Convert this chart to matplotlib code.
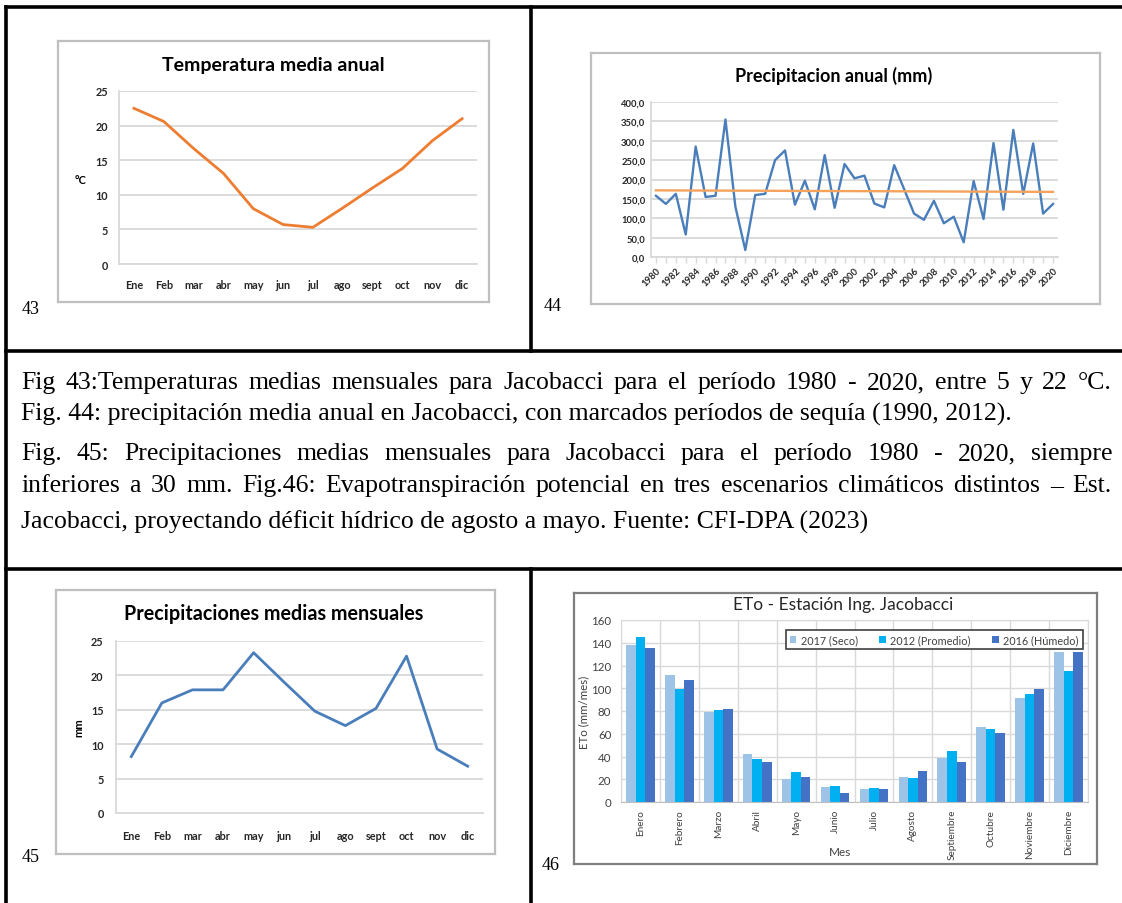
import matplotlib.pyplot as plt
from matplotlib.lines import Line2D

W, H = 1122, 904

# --- datos ---
meses_cortos = ['Ene', 'Feb', 'mar', 'abr', 'may', 'jun', 'jul', 'ago', 'sept', 'oct', 'nov', 'dic']
temp_media = [22.5, 20.6, 16.7, 13.1, 8.0, 5.7, 5.3, 8.1, 11.0, 13.8, 17.8, 21.0]

anios = list(range(1980, 2021))
precip_anual = [158, 137, 163, 58, 285, 155, 158, 355, 130, 18,
                160, 163, 250, 275, 135, 197, 123, 263, 127, 240,
                203, 210, 138, 128, 237, 175, 112, 96, 145, 87,
                104, 38, 196, 98, 294, 122, 328, 163, 293, 112, 137]
tendencia = [172, 168]  # extremos de la linea de tendencia

precip_mensual = [8.2, 16.0, 17.9, 17.9, 23.3, 19.0, 14.8, 12.7, 15.2, 22.8, 9.3, 6.8]

meses_largos = ['Enero', 'Febrero', 'Marzo', 'Abril', 'Mayo', 'Junio', 'Julio', 'Agosto',
                'Septiembre', 'Octubre', 'Noviembre', 'Diciembre']
eto_seco = [138, 112, 79, 42, 20, 13, 11, 22, 39, 66, 91, 132]
eto_prom = [145, 99, 81, 38, 26, 14, 12, 21, 45, 64, 95, 115]
eto_humedo = [135, 107, 82, 35, 22, 8, 11, 27, 35, 61, 99, 132]

texto = [
    "Fig 43:Temperaturas medias mensuales para Jacobacci para el período 1980 - 2020, entre 5 y 22 °C.",
    "Fig. 44: precipitación media anual en Jacobacci, con marcados períodos de sequía (1990, 2012).",
    "Fig. 45: Precipitaciones medias mensuales para Jacobacci para el período 1980 - 2020, siempre",
    "inferiores a 30 mm. Fig.46: Evapotranspiración potencial en tres escenarios climáticos distintos – Est.",
    "Jacobacci, proyectando déficit hídrico de agosto a mayo. Fuente: CFI-DPA (2023)",
]
justificar = [True, False, True, True, False]
y_lineas = [382, 414, 453, 485, 522]

GRIS = '#D9D9D9'
SANS = 'Lato'


def rect(x0, y0, x1, y1):
    return [x0 / W, 1 - y1 / H, (x1 - x0) / W, (y1 - y0) / H]


def fx(x):
    return x / W


def fy(y):
    return 1 - y / H


fig = plt.figure(figsize=(W / 100, H / 100), dpi=100)


def caja(x0, y0, x1, y1, color='#BFBFBF'):
    ax = fig.add_axes(rect(x0, y0, x1, y1))
    ax.set_xticks([])
    ax.set_yticks([])
    for s in ax.spines.values():
        s.set_color(color)
        s.set_linewidth(1.6)
    return ax


def estilo(ax):
    ax.patch.set_alpha(0)
    ax.yaxis.grid(True, color=GRIS, lw=1.3)
    ax.set_axisbelow(True)
    for s in ['top', 'right']:
        ax.spines[s].set_visible(False)
    ax.spines['left'].set_color(GRIS)
    ax.spines['bottom'].set_color(GRIS)
    ax.spines['left'].set_linewidth(1.3)
    ax.spines['bottom'].set_linewidth(1.3)
    ax.tick_params(length=0)


# ---------- Fig 43 ----------
caja(58, 42, 489, 303)
ax1 = fig.add_axes(rect(119, 92, 477, 265))
estilo(ax1)
ax1.plot(range(12), temp_media, color='#ED7D31', lw=2)
ax1.set_xlim(-0.5, 11.5)
ax1.set_ylim(0, 25)
ax1.set_yticks(range(0, 26, 5))
ax1.set_xticks(range(12))
ax1.set_xticklabels(meses_cortos)
ax1.tick_params(axis='y', pad=8)
ax1.tick_params(axis='x', pad=11)
for t in ax1.get_xticklabels() + ax1.get_yticklabels():
    t.set_fontsize(7.8)
    t.set_fontweight('bold')
    t.set_family(SANS)
    t.set_color('#262626')
fig.text(fx(273), fy(66), 'Temperatura media anual', ha='center', va='center',
         fontsize=14, fontweight='bold', family=SANS)
fig.text(fx(81), fy(180), '°C', ha='center', va='center', fontsize=8,
         fontweight='bold', family=SANS)

# ---------- Fig 44 ----------
caja(591, 54, 1100, 305)
ax2 = fig.add_axes(rect(651, 103, 1058, 258))
estilo(ax2)
n = len(anios)
ax2.plot(range(n), precip_anual, color='#4A7EBB', lw=1.7)
ax2.plot([0, n - 1], tendencia, color='#F5A35C', lw=1.7)
ax2.set_xlim(-0.5, n - 0.5)
ax2.set_ylim(0, 400)
ax2.set_yticks(range(0, 401, 50))
ax2.set_yticklabels([f'{v},0' for v in range(0, 401, 50)])
ax2.set_xticks(range(n))
ax2.set_xticklabels([str(a) if a % 2 == 0 else '' for a in anios],
                    rotation=45, ha='right', rotation_mode='anchor')
ax2.tick_params(axis='x', length=4, color=GRIS, width=1, pad=2)
ax2.tick_params(axis='y', pad=4)
for t in ax2.get_xticklabels() + ax2.get_yticklabels():
    t.set_fontsize(6.8)
    t.set_fontweight('bold')
    t.set_family(SANS)
    t.set_color('#262626')
fig.text(fx(834), fy(76), 'Precipitacion anual (mm)', ha='center', va='center',
         fontsize=13, fontweight='bold', family=SANS)

# ---------- Fig 45 ----------
caja(56, 591, 495, 855)
ax3 = fig.add_axes(rect(116, 642, 483, 814))
estilo(ax3)
ax3.plot(range(12), precip_mensual, color='#4A7EBB', lw=2)
ax3.set_xlim(-0.5, 11.5)
ax3.set_ylim(0, 25)
ax3.set_yticks(range(0, 26, 5))
ax3.set_xticks(range(12))
ax3.set_xticklabels(meses_cortos)
ax3.tick_params(axis='y', pad=9)
ax3.tick_params(axis='x', pad=12)
for t in ax3.get_xticklabels() + ax3.get_yticklabels():
    t.set_fontsize(7.8)
    t.set_fontweight('bold')
    t.set_family(SANS)
    t.set_color('#262626')
fig.text(fx(274), fy(614), 'Precipitaciones medias mensuales', ha='center', va='center',
         fontsize=14.2, fontweight='bold', family=SANS)
fig.text(fx(79), fy(728), 'mm', ha='center', va='center', rotation=90, fontsize=8,
         fontweight='bold', family=SANS)

# ---------- Fig 46 ----------
caja(574, 594, 1097, 865, color='#7F7F7F')
ax4 = fig.add_axes(rect(621, 621, 1088, 803))
ax4.patch.set_alpha(0)
x = list(range(12))
bw = 0.245
ax4.bar([i - bw for i in x], eto_seco, bw, color='#9DC3E6', label='2017 (Seco)')
ax4.bar(x, eto_prom, bw, color='#00B0F0', label='2012 (Promedio)')
ax4.bar([i + bw for i in x], eto_humedo, bw, color='#4472C4', label='2016 (Húmedo)')
ax4.set_xlim(-0.5, 11.5)
ax4.set_ylim(0, 160)
ax4.set_yticks(range(0, 161, 20))
ax4.set_xticks(x)
ax4.set_xticklabels(meses_largos, rotation=90)
ax4.set_xticks([i + 0.5 for i in range(-1, 12)], minor=True)
ax4.grid(True, axis='y', color=GRIS, lw=1)
ax4.grid(True, axis='x', which='minor', color=GRIS, lw=1)
ax4.set_axisbelow(True)
for s in ax4.spines.values():
    s.set_color(GRIS)
ax4.spines['bottom'].set_color('#BFBFBF')
ax4.tick_params(which='both', length=0)
ax4.tick_params(axis='y', pad=7)
ax4.tick_params(axis='x', pad=5)
for t in ax4.get_yticklabels():
    t.set_fontsize(8.3)
    t.set_family(SANS)
    t.set_color('#404040')
for t in ax4.get_xticklabels():
    t.set_fontsize(7.2)
    t.set_family(SANS)
    t.set_color('#404040')
fig.text(fx(840), fy(853), 'Mes', ha='center', va='center',
         fontsize=8.5, family=SANS, color='#404040')
fig.text(fx(584), fy(712), 'ETo (mm/mes)', ha='center', va='center', rotation=90,
         fontsize=8.3, family=SANS, color='#404040')
fig.text(fx(843), fy(605), 'ETo - Estación Ing. Jacobacci', ha='center', va='center',
         fontsize=12.5, family=SANS, color='#262626')
leg = ax4.legend(loc='upper right', bbox_to_anchor=(fx(1088), fy(626)),
                 bbox_transform=fig.transFigure, ncol=3, fontsize=7.8,
                 handlelength=0.6, handleheight=0.6, handletextpad=0.4,
                 columnspacing=2.0, borderpad=0.35, fancybox=False,
                 edgecolor='#404040', framealpha=1)
leg.get_frame().set_linewidth(1.2)
for t in leg.get_texts():
    t.set_family(SANS)
    t.set_color('#404040')

# ---------- numeros de figura ----------
for num, xx, yy in [('43', 22, 309), ('44', 544, 307), ('45', 22, 858), ('46', 542, 866)]:
    fig.text(fx(xx), fy(yy), num, ha='left', va='center', fontsize=13,
             family='Liberation Serif')

# ---------- tabla ----------
lineas = [
    ([6, 1122], [8, 8]),
    ([6, 6], [8, 904]),
    ([6, 1122], [352, 352]),
    ([6, 1122], [570, 570]),
    ([531, 531], [8, 352]),
    ([531, 531], [570, 904]),
]
for xs, ys in lineas:
    fig.add_artist(Line2D([fx(v) for v in xs], [fy(v) for v in ys],
                          transform=fig.transFigure, color='black', lw=2.6))

# ---------- texto justificado ----------
renderer = fig.canvas.get_renderer()
x_izq, x_der = 21, 1112
prueba = fig.text(0, 0, texto[1], fontsize=15, family='Liberation Serif')
ancho = prueba.get_window_extent(renderer).width
prueba.remove()
fs = 15 * 992 / ancho

for linea, just, yy in zip(texto, justificar, y_lineas):
    if not just:
        fig.text(fx(x_izq), fy(yy + 7), linea, fontsize=fs, family='Liberation Serif',
                 ha='left', va='baseline')
        continue
    palabras = linea.split(' ')
    objs = [fig.text(0, 0, p, fontsize=fs, family='Liberation Serif', va='baseline')
            for p in palabras]
    anchos = [o.get_window_extent(renderer).width for o in objs]
    hueco = (x_der - x_izq - sum(anchos)) / (len(palabras) - 1)
    xx = x_izq
    for o, a in zip(objs, anchos):
        o.set_position((fx(xx), fy(yy + 7)))
        xx += a + hueco

fig.savefig('out.png', dpi=100)
